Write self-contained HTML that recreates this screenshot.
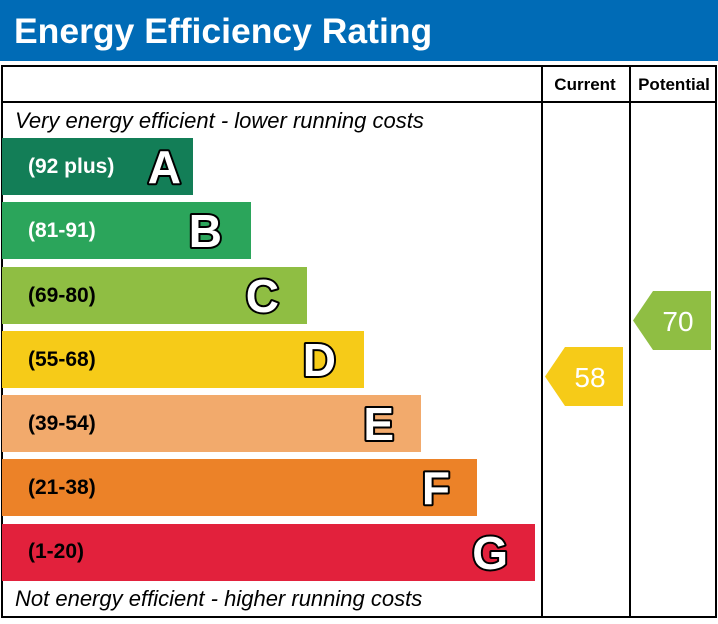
<!DOCTYPE html>
<html><head><style>
body{margin:0;width:718px;height:619px;background:#fff;overflow:hidden}
.L{font-size:46px;fill:#fff;stroke:#000;stroke-width:4;paint-order:stroke;stroke-linejoin:round;font-weight:bold}
</style></head><body>
<svg width="718" height="619" xmlns="http://www.w3.org/2000/svg" font-family="Liberation Sans, Arial, sans-serif">
<rect x="0" y="0" width="718" height="61" fill="#006bb6"/>
<text x="14" y="43" font-size="35.5" font-weight="bold" fill="#fff">Energy Efficiency Rating</text>
<rect x="2" y="66" width="714" height="551" fill="none" stroke="#000" stroke-width="2"/>
<line x1="2" y1="102" x2="716" y2="102" stroke="#000" stroke-width="2"/>
<line x1="542" y1="66" x2="542" y2="617" stroke="#000" stroke-width="2"/>
<line x1="630" y1="66" x2="630" y2="617" stroke="#000" stroke-width="2"/>
<text x="585" y="90" font-size="17" font-weight="bold" text-anchor="middle">Current</text>
<text x="674" y="90" font-size="17" font-weight="bold" text-anchor="middle">Potential</text>
<text x="15" y="128" font-size="22" font-style="italic">Very energy efficient - lower running costs</text>
<text x="15" y="606" font-size="22" font-style="italic">Not energy efficient - higher running costs</text>
<g font-weight="bold">
<rect x="2" y="138" width="191" height="57" fill="#137e57"/>
<text x="28" y="173" font-size="21" fill="#fff">(92 plus)</text>
<text x="181" y="183" class="L" text-anchor="end">A</text>
<rect x="2" y="202" width="249" height="57" fill="#2ba55b"/>
<text x="28" y="237" font-size="21" fill="#fff">(81-91)</text>
<text x="222" y="247" class="L" text-anchor="end">B</text>
<rect x="2" y="267" width="305" height="57" fill="#8fbe43"/>
<text x="28" y="302" font-size="21" fill="#000">(69-80)</text>
<text x="279" y="312" class="L" text-anchor="end">C</text>
<rect x="2" y="331" width="362" height="57" fill="#f6cb18"/>
<text x="28" y="366" font-size="21" fill="#000">(55-68)</text>
<text x="336" y="376" class="L" text-anchor="end">D</text>
<rect x="2" y="395" width="419" height="57" fill="#f2aa6c"/>
<text x="28" y="430" font-size="21" fill="#000">(39-54)</text>
<text x="394" y="440" class="L" text-anchor="end">E</text>
<rect x="2" y="459" width="475" height="57" fill="#ec8228"/>
<text x="28" y="494" font-size="21" fill="#000">(21-38)</text>
<text x="450" y="504" class="L" text-anchor="end">F</text>
<rect x="2" y="524" width="533" height="57" fill="#e2213c"/>
<text x="28" y="558" font-size="21" fill="#000">(1-20)</text>
<text x="508" y="569" class="L" text-anchor="end">G</text>
</g>
<polygon points="545,376.5 565,347 623,347 623,406 565,406" fill="#f6cb18"/>
<text x="590" y="387" font-size="28" fill="#fff" text-anchor="middle">58</text>
<polygon points="633,320.5 653,291 711,291 711,350 653,350" fill="#8fbe43"/>
<text x="678" y="331" font-size="28" fill="#fff" text-anchor="middle">70</text>
</svg>
</body></html>
